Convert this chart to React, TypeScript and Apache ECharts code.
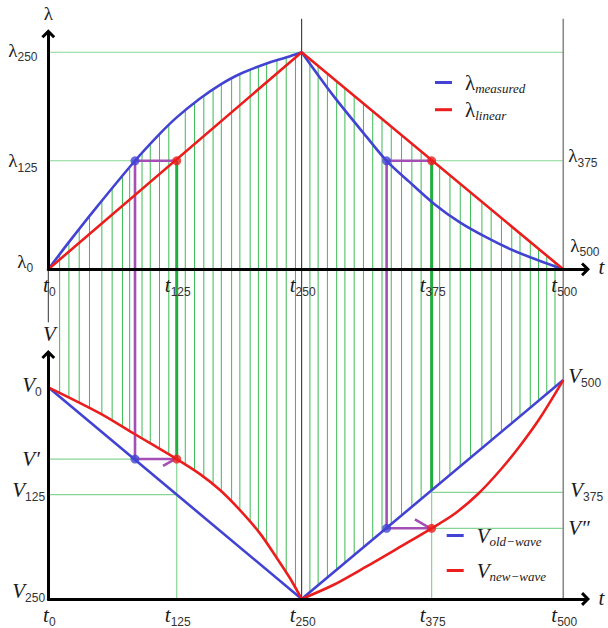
import React, { useEffect, useRef } from 'react';
import * as echarts from 'echarts';

// ---------------- data ----------------
const tTicks = [0, 124.7, 246, 372.2, 500];
const tTickSubs = ['0', '125', '250', '375', '500'];

const lambdaLeftTicks = [1.0, 0.5, 0];
const lambdaLeftSubs = ['250', '125', '0'];
const lambdaRightTicks = [0.5, 0];
const lambdaRightSubs = ['375', '500'];

const vLeftTicks = [1.0, 0.661, 0.493, 0];
const vLeftMain = ['V', 'V\u2032', 'V', 'V'];
const vLeftSubs = ['0', '', '125', '250'];
const vRightTicks = [1.034, 0.504, 0.334];
const vRightMain = ['V', 'V', 'V\u2033'];
const vRightSubs = ['500', '375', ''];

const measuredT = [0, 20, 45, 84.2, 108.4, 124.7, 147.3, 166.7, 186.1, 212, 231.5, 246, 276.7, 309.1, 328.5, 350, 375, 400, 425, 450, 475, 500];
const measuredL = [0, 0.125, 0.275, 0.5, 0.625, 0.7, 0.787, 0.85, 0.9, 0.948, 0.977, 1.0, 0.8, 0.61, 0.5, 0.405, 0.3, 0.215, 0.148, 0.09, 0.043, 0];
const linearT = [0, 246, 500];
const linearL = [0, 1, 0];

const oldWaveT = [0, 246, 500];
const oldWaveV = [1, 0, 1.034];
const newWaveT = [0, 50.2, 82.5, 124.7, 147.3, 166.7, 186.1, 205.5, 221.7, 234.7, 246, 276.7, 309.1, 341.5, 372.2, 394.9, 417.2, 438.5, 457.9, 477.4, 500];
const newWaveV = [1, 0.877, 0.783, 0.661, 0.59, 0.515, 0.42, 0.31, 0.195, 0.098, 0, 0.066, 0.154, 0.246, 0.334, 0.404, 0.496, 0.607, 0.723, 0.855, 1.034];

const peakT = 246;
const probeT = [84.2, 328.5];      // blue dots
const targetT = [124.7, 372.2];    // red dots
const lambdaProbe = 0.5;
const vProbe = [0.661, 0.334];

const hatchT = [11, 20, 30, 40, 52, 62, 72, 79, 91, 99, 108, 117, 133, 142, 151, 160, 168, 178, 186, 196, 204, 212, 222, 231, 240,
  254, 262, 271, 280, 288, 297, 306, 315, 324, 333, 343, 353, 362, 380, 390, 400, 410, 421, 430, 440, 450, 458, 468, 476, 484, 492];

const T_AXIS_MAX = 521.6;
const L_AXIS_MAX = 1.085;
const V_AXIS_MAX = 1.155;

// ---------------- styles ----------------
const BLUE = '#4343d3';
const RED = '#ec1d1d';
const PURPLE = '#a34fb3';
const GREEN = '#3dba55';
const GREEN_DARK = '#22ad40';
const GREEN_LIGHT = '#86d596';
const INK = '#1a1a1a';
const SERIF = '"Liberation Serif", "DejaVu Serif", serif';
const SANS = '"Liberation Sans", "DejaVu Sans", sans-serif';
const CHEVRON = 'path://M0,10L10,0L20,10L17,13L10,6L3,13Z';

const pairs = (ts: number[], vs: number[]) => ts.map((t, i) => [t, vs[i]]);
const half = (ts: number[], vs: number[], left: boolean) =>
  pairs(ts, vs).filter(([t]) => (left ? t <= peakT : t >= peakT));

function interp(ts: number[], vs: number[], t: number) {
  for (let i = 0; i < ts.length - 1; i++) {
    if (t >= ts[i] && t <= ts[i + 1]) {
      const f = (t - ts[i]) / (ts[i + 1] - ts[i]);
      return vs[i] + f * (vs[i + 1] - vs[i]);
    }
  }
  return vs[vs.length - 1];
}
const upperTop = (t: number) => Math.max(interp(measuredT, measuredL, t), interp(linearT, linearL, t));
const upperBottom = (t: number) => Math.max(interp(oldWaveT, oldWaveV, t), interp(newWaveT, newWaveV, t));

const lineSeries = (grid: number, data: number[][], color: string, width: number, z: number, extra: any = {}) => ({
  type: 'line',
  xAxisIndex: grid,
  yAxisIndex: grid,
  data,
  symbol: 'none',
  silent: true,
  z,
  color,
  lineStyle: { color, width },
  ...extra,
});
const SMOOTH = { smooth: 0.3 };

const dotSeries = (grid: number, data: number[][], color: string) => ({
  type: 'scatter',
  xAxisIndex: grid,
  yAxisIndex: grid,
  data,
  symbol: 'circle',
  symbolSize: 9,
  silent: true,
  z: 6,
  itemStyle: { color },
});

const legendRich = {
  g: { fontFamily: SERIF, fontSize: 21, color: INK, lineHeight: 24, padding: [0, 0, 0, 8] },
  v: { fontFamily: SERIF, fontStyle: 'italic', fontSize: 21, color: INK, lineHeight: 24, padding: [0, 0, 0, 8] },
  s: { fontFamily: SERIF, fontStyle: 'italic', fontSize: 13, color: INK, lineHeight: 14, verticalAlign: 'bottom' },
};
const legendNames: Record<string, string> = {
  'λ measured': '{g|λ}{s|measured}',
  'λ linear': '{g|λ}{s|linear}',
  'V old-wave': '{v|V}{s|old\u2212wave}',
  'V new-wave': '{v|V}{s|new\u2212wave}',
};

function axisPair(grid: number, yMax: number) {
  const axisLine = {
    show: true,
    onZero: true,
    symbol: ['none', CHEVRON],
    symbolSize: [14, 9],
    lineStyle: { color: '#000', width: 3 },
  };
  return {
    x: {
      type: 'value', gridIndex: grid, min: 0, max: T_AXIS_MAX, z: 10,
      axisLine, axisTick: { show: false }, axisLabel: { show: false }, splitLine: { show: false },
    },
    y: {
      type: 'value', gridIndex: grid, min: 0, max: yMax, z: 10,
      axisLine, axisTick: { show: false }, axisLabel: { show: false }, splitLine: { show: false },
    },
  };
}

function buildOption() {
  const a0 = axisPair(0, L_AXIS_MAX);
  const a1 = axisPair(1, V_AXIS_MAX);
  return {
    animation: false,
    backgroundColor: '#ffffff',
    grid: [
      { left: 48.3, top: 33.8, width: 537.2, height: 235.5 },
      { left: 48.3, top: 354.5, width: 537.2, height: 244.5 },
    ],
    xAxis: [a0.x, a1.x],
    yAxis: [a0.y, a1.y],
    legend: [
      {
        left: 435, top: 72, padding: 0, orient: 'vertical', itemGap: 4.7, itemWidth: 17, itemHeight: 3,
        icon: 'rect', selectedMode: false,
        data: ['λ measured', 'λ linear'],
        formatter: (n: string) => legendNames[n],
        textStyle: { rich: legendRich },
      },
      {
        left: 446.7, top: 525, padding: 0, orient: 'vertical', itemGap: 12.5, itemWidth: 17, itemHeight: 3,
        icon: 'rect', selectedMode: false,
        data: ['V old-wave', 'V new-wave'],
        formatter: (n: string) => legendNames[n],
        textStyle: { rich: legendRich },
      },
    ],
    series: [
      // top reference lines
      lineSeries(0, [[0, lambdaLeftTicks[0]], [tTicks[4], lambdaLeftTicks[0]]], GREEN_LIGHT, 1.2, 1),
      lineSeries(0, [[0, lambdaProbe], [probeT[0], lambdaProbe]], GREEN_LIGHT, 1.2, 1),
      lineSeries(0, [[targetT[1], lambdaRightTicks[0]], [tTicks[4], lambdaRightTicks[0]]], GREEN_LIGHT, 1.2, 1),
      // top purple connectors
      lineSeries(0, [[probeT[0], lambdaProbe], [targetT[0], lambdaProbe]], PURPLE, 2.6, 3),
      lineSeries(0, [[probeT[1], lambdaProbe], [targetT[1], lambdaProbe]], PURPLE, 2.6, 3),
      // top curves
      lineSeries(0, half(measuredT, measuredL, true), BLUE, 2.6, 4, { name: 'λ measured', ...SMOOTH }),
      lineSeries(0, half(measuredT, measuredL, false), BLUE, 2.6, 4, { name: 'λ measured', ...SMOOTH }),
      lineSeries(0, pairs(linearT, linearL), RED, 2.6, 4, { name: 'λ linear' }),
      dotSeries(0, probeT.map((t) => [t, lambdaProbe]), BLUE),
      dotSeries(0, targetT.map((t) => [t, lambdaProbe]), RED),

      // bottom reference lines
      lineSeries(1, [[0, vLeftTicks[1]], [probeT[0], vLeftTicks[1]]], GREEN_LIGHT, 1.2, 1),
      lineSeries(1, [[0, vLeftTicks[2]], [targetT[0], vLeftTicks[2]]], GREEN_LIGHT, 1.2, 1),
      lineSeries(1, [[targetT[1], vRightTicks[1]], [tTicks[4], vRightTicks[1]]], GREEN_LIGHT, 1.2, 1),
      lineSeries(1, [[targetT[1], vRightTicks[2]], [tTicks[4], vRightTicks[2]]], GREEN_LIGHT, 1.2, 1),
      lineSeries(1, [[targetT[0], upperBottom(targetT[0])], [targetT[0], 0]], GREEN_LIGHT, 1.2, 1),
      lineSeries(1, [[targetT[1], upperBottom(targetT[1])], [targetT[1], 0]], GREEN_LIGHT, 1.2, 1),
      // bottom purple arrows
      lineSeries(1, [[probeT[0], vProbe[0]], [targetT[0], vProbe[0]]], PURPLE, 2.6, 3),
      lineSeries(1, [[probeT[1], vProbe[1]], [targetT[1], vProbe[1]]], PURPLE, 2.6, 3),
      // bottom curves
      lineSeries(1, pairs(oldWaveT, oldWaveV), BLUE, 2.6, 4, { name: 'V old-wave' }),
      lineSeries(1, half(newWaveT, newWaveV, true), RED, 2.6, 4, { name: 'V new-wave', ...SMOOTH }),
      lineSeries(1, half(newWaveT, newWaveV, false), RED, 2.6, 4, { name: 'V new-wave', ...SMOOTH }),
      dotSeries(1, probeT.map((t, i) => [t, vProbe[i]]), BLUE),
      dotSeries(1, targetT.map((t, i) => [t, vProbe[i]]), RED),
    ],
  };
}

const textRich = {
  g: { fontFamily: SERIF, fontSize: 19, fill: INK, lineHeight: 26 },
  v: { fontFamily: SERIF, fontStyle: 'italic', fontSize: 21, fill: INK, lineHeight: 26 },
  n: { fontFamily: SANS, fontSize: 12, fill: '#333', lineHeight: 14, verticalAlign: 'bottom' },
};

// label placement offsets (pixels)
const lambdaLeftDx = [-40, -40, -31];
const lambdaLeftDy = [-2, 0, -8];
const lambdaRightDx = [5, 7];
const lambdaRightDy = [-5, -24];
const vLeftDx = [-26, -26, -36, -36];
const vLeftDy = [-2, 0, -5, -8];
const vRightDx = [5, 7, 5];
const vRightDy = [-4, -2, 0];

export default function App() {
  const ref = useRef<HTMLDivElement>(null);
  useEffect(() => {
    const el = ref.current as HTMLDivElement;
    const chart = echarts.init(el, null, { renderer: 'svg' });
    chart.setOption(buildOption() as any);

    const P0 = (t: number, v: number) => chart.convertToPixel({ gridIndex: 0 } as any, [t, v]) as number[];
    const P1 = (t: number, v: number) => chart.convertToPixel({ gridIndex: 1 } as any, [t, v]) as number[];
    const els: any[] = [];
    const line = (a: number[], b: number[], stroke: string, lineWidth: number, z: number) =>
      els.push({ type: 'line', silent: true, z, shape: { x1: a[0], y1: a[1], x2: b[0], y2: b[1] }, style: { stroke, lineWidth } });
    const text = (x: number, y: number, str: string, align: string) =>
      els.push({ type: 'text', silent: true, z: 20, x, y, style: { text: str, rich: textRich, align, verticalAlign: 'middle' } });

    // hatch lines spanning both panels
    hatchT.forEach((t) => line(P0(t, upperTop(t)), P1(t, upperBottom(t)), GREEN, 1, 1));
    // thick green lines at t125 / t375
    targetT.forEach((t) => line(P0(t, lambdaProbe), P1(t, upperBottom(t)), GREEN_DARK, 3, 2));
    // purple verticals
    probeT.forEach((t, i) => line(P0(t, lambdaProbe), P1(t, vProbe[i]), PURPLE, 2.6, 3));
    // arrow barbs
    const tipL = P1(targetT[0], vProbe[0]);
    line([tipL[0] - 13.7, tipL[1] + 6.7], [tipL[0] - 3, tipL[1] + 0.7], PURPLE, 2.6, 3);
    const tipR = P1(targetT[1], vProbe[1]);
    line([tipR[0] - 16.7, tipR[1] - 9], [tipR[0] - 3, tipR[1] - 1], PURPLE, 2.6, 3);
    // full height thin lines at t250 / t500, stub at t0
    const topY = P0(0, L_AXIS_MAX)[1] - 15;
    const botY = P1(0, 0)[1];
    const x250 = P0(tTicks[2], 0)[0];
    const x500 = P0(tTicks[4], 0)[0];
    line([x250, topY], [x250, botY], '#222', 1, 1.5);
    line([x500, topY], [x500, botY], '#8a8a8a', 1.6, 1.5);
    const o0 = P0(0, 0);
    line([o0[0], o0[1]], [o0[0], o0[1] + 53], '#333', 1, 1.5);

    // tick labels
    lambdaLeftTicks.forEach((v, i) => {
      const p = P0(0, v);
      text(p[0] + lambdaLeftDx[i], p[1] + lambdaLeftDy[i], `{g|λ}{n|${lambdaLeftSubs[i]}}`, 'left');
    });
    lambdaRightTicks.forEach((v, i) => {
      const p = P0(tTicks[4], v);
      text(p[0] + lambdaRightDx[i], p[1] + lambdaRightDy[i], `{g|λ}{n|${lambdaRightSubs[i]}}`, 'left');
    });
    vLeftTicks.forEach((v, i) => {
      const p = P1(0, v);
      const s = vLeftSubs[i] ? `{n|${vLeftSubs[i]}}` : '';
      text(p[0] + vLeftDx[i], p[1] + vLeftDy[i], `{v|${vLeftMain[i]}}${s}`, 'left');
    });
    vRightTicks.forEach((v, i) => {
      const p = P1(tTicks[4], v);
      const s = vRightSubs[i] ? `{n|${vRightSubs[i]}}` : '';
      text(p[0] + vRightDx[i], p[1] + vRightDy[i], `{v|${vRightMain[i]}}${s}`, 'left');
    });
    tTicks.forEach((t, i) => {
      const a = P0(t, 0);
      text(a[0] + 1, a[1] + 16, `{v|t}{n|${tTickSubs[i]}}`, 'center');
      const b = P1(t, 0);
      text(b[0] + 1, b[1] + 16, `{v|t}{n|${tTickSubs[i]}}`, 'center');
    });
    // axis names
    const lTip = P0(0, L_AXIS_MAX);
    text(lTip[0], lTip[1] - 20, '{g|λ}', 'center');
    const vTip = P1(0, V_AXIS_MAX);
    text(vTip[0] + 1, vTip[1] - 21, '{v|V}', 'center');
    const tTip0 = P0(T_AXIS_MAX, 0);
    text(tTip0[0] + 16, tTip0[1] - 2, '{v|t}', 'center');
    const tTip1 = P1(T_AXIS_MAX, 0);
    text(tTip1[0] + 16, tTip1[1] - 1, '{v|t}', 'center');

    chart.setOption({ graphic: els } as any);
    return () => chart.dispose();
  }, []);
  return (
    <div
      ref={ref}
      style={{ position: 'fixed', left: 0, top: 0, width: 608, height: 628, background: '#fff' }}
    />
  );
}
